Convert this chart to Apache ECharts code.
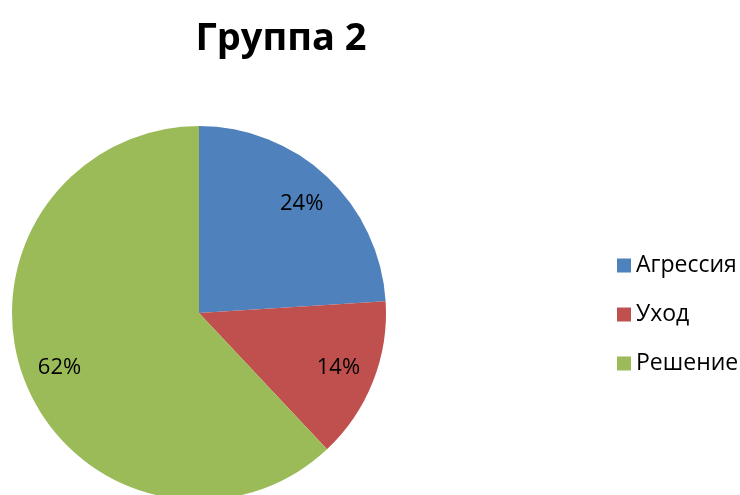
<!DOCTYPE html>
<html>
<head>
<meta charset="utf-8">
<script src="https://cdn.jsdelivr.net/npm/echarts@6/dist/echarts.min.js"></script>
<style>
  html, body { margin: 0; padding: 0; background: #ffffff; }
  #chart { width: 740px; height: 495px; }
</style>
</head>
<body>
<div id="chart"></div>
<script>
// Reaction categories and their shares (%)
const categories = ['Агрессия', 'Уход', 'Решение'];
const shares = [24, 14, 62];
const colors = ['#4F81BD', '#C0504D', '#9BBB59'];

const font = '"Open Sans", "Liberation Sans", sans-serif';
const pieData = categories.map((name, i) => ({ name: name, value: shares[i] }));

const chart = echarts.init(document.getElementById('chart'), null, { renderer: 'canvas' });
chart.setOption({
  animation: false,
  color: colors,
  title: {
    text: 'Группа 2',
    left: 276,
    top: 15,
    textAlign: 'center',
    textStyle: { fontFamily: font, fontWeight: 'bold', fontSize: 38, color: '#000' }
  },
  legend: {
    data: categories,
    orient: 'vertical',
    left: 612,
    top: 249,
    itemWidth: 14,
    itemHeight: 14,
    itemGap: 26,
    icon: 'rect',
    textStyle: { fontFamily: font, fontSize: 23, color: '#000', padding: [0, 0, 0, 0] }
  },
  series: [
    {
      type: 'pie',
      center: [199, 313],
      radius: [0, 187],
      startAngle: 90,
      clockwise: true,
      silent: true,
      label: { show: false },
      labelLine: { show: false },
      itemStyle: { borderWidth: 0 },
      data: pieData
    },
    {
      // transparent ring carrying the percentage labels further out
      type: 'pie',
      center: [199, 313],
      radius: [107, 187],
      startAngle: 90,
      clockwise: true,
      silent: true,
      legendHoverLink: false,
      itemStyle: { color: 'rgba(0,0,0,0)', borderWidth: 0 },
      label: {
        show: true,
        position: 'inside',
        formatter: '{c}%',
        fontFamily: font,
        fontSize: 22,
        color: '#000'
      },
      labelLine: { show: false },
      data: pieData
    }
  ]
});
</script>
</body>
</html>
